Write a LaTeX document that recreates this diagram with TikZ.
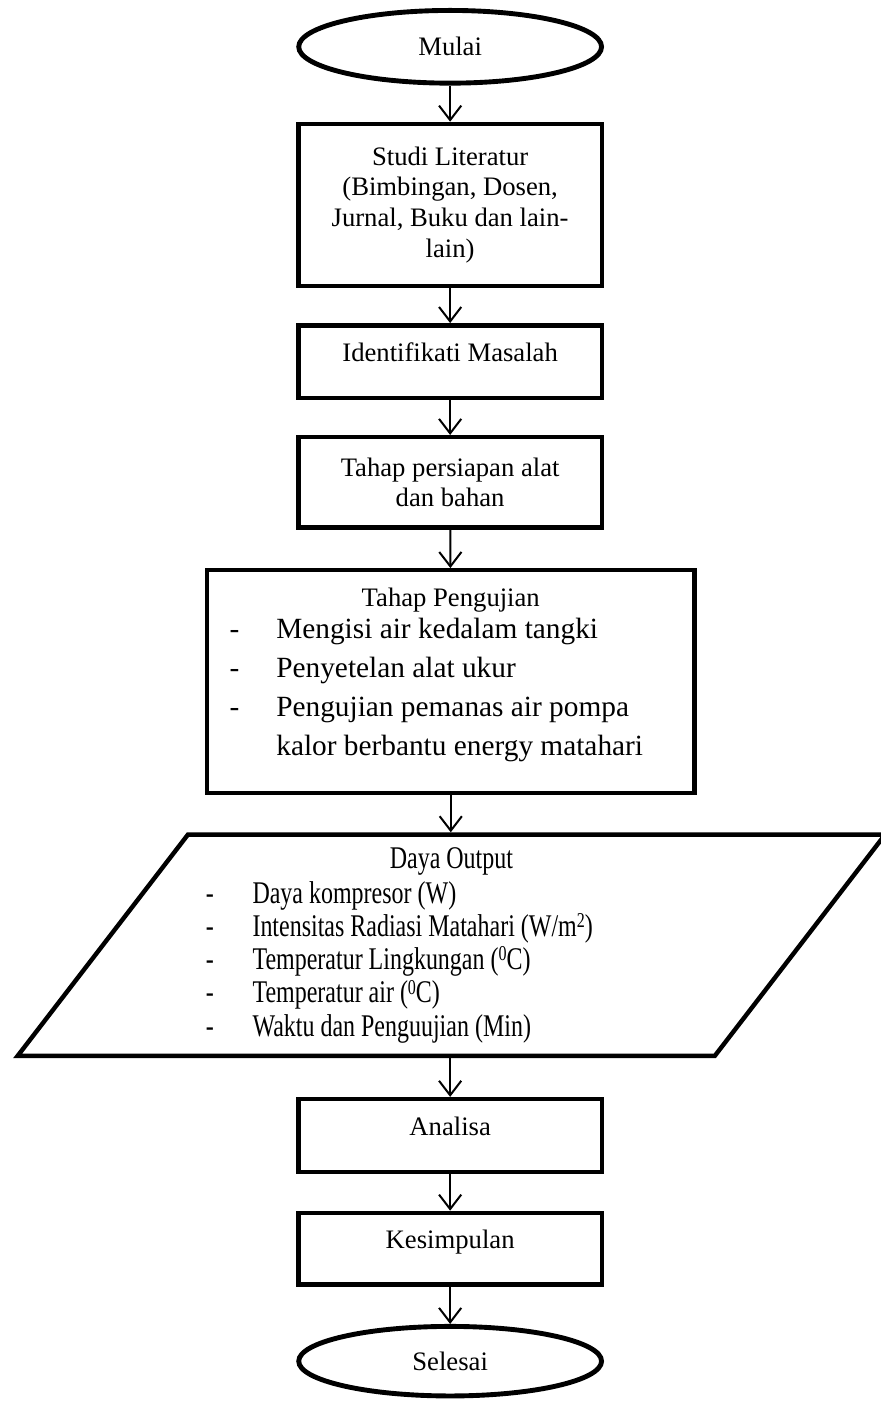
\documentclass[tikz,border=0pt]{standalone}
\usepackage{fontspec}
\setmainfont{Liberation Serif}
\newfontfamily\condensed[FakeStretch=0.76]{Liberation Serif}
\usepackage{tikz}
\usetikzlibrary{shapes.geometric, arrows.meta}

\newcommand{\itemdash}{\makebox[21pt][l]{-}}
\newcommand{\upnum}[1]{\raisebox{0.62ex}{\fontsize{9.5}{9.5}\selectfont #1}}

\tikzset{
    box/.style={draw, rectangle, line width=2pt, minimum width=4.8cm, align=center,
        font=\fontsize{12}{13.8}\selectfont},
    oneline/.style={text height=9pt, text depth=9pt},
    term/.style={draw, ellipse, line width=2.2pt, minimum width=4.79cm,
        font=\fontsize{12}{13.8}\selectfont},
    arr/.style={-{Straight Barb[length=6.5pt,width=10pt]}, line width=0.9pt}
}

\begin{document}
\begin{tikzpicture}
        \useasboundingbox (0,0) rectangle (13.93,-22.16);

        \node[term, minimum height=1.15cm] (mulai) at (7.12,-0.74) {Mulai};

        \node[box, minimum height=2.56cm] (studi) at (7.12,-3.24)
            {Studi Literatur\\(Bimbingan, Dosen,\\Jurnal, Buku dan lain-\\lain)};
        \node[box, oneline, minimum height=1.15cm] (identifikasi) at (7.12,-5.72)
            {Identifikati Masalah};
        \node[box, minimum height=1.43cm] (persiapan) at (7.12,-7.63)
            {Tahap persiapan alat\\dan bahan};

        \node[box, minimum width=7.71cm, minimum height=3.52cm] (pengujian) at (7.13,-10.78)
            {\begin{minipage}{199pt}
                \centering Tahap Pengujian\par\vspace{-3pt}
                \raggedright\fontsize{13.2}{17.5}\selectfont
                \itemdash Mengisi air kedalam tangki\par
                \itemdash Penyetelan alat ukur\par
                \itemdash Pengujian pemanas air pompa\par
                \hspace*{21pt}kalor berbantu energy matahari\par\vspace{6pt}
            \end{minipage}};

        \node[draw, trapezium, trapezium left angle=51, trapezium right angle=129,
            trapezium stretches body, line width=2pt, minimum width=13.72cm,
            minimum height=3.5cm] (output) at (7.14,-14.95)
            {\begin{minipage}{221pt}
                \condensed\fontsize{14.2}{14.9}\selectfont
                \centering Daya Output\par\vspace{1pt}
                \raggedright
                \itemdash Daya kompresor (W)\par
                \itemdash Intensitas Radiasi Matahari (W/m\upnum{2})\par
                \itemdash Temperatur Lingkungan (\upnum{0}C)\par
                \itemdash Temperatur air (\upnum{0}C)\par
                \itemdash Waktu dan Penguujian (Min)
            \end{minipage}};

        \node[box, oneline, minimum height=1.15cm] (analisa) at (7.12,-17.96) {Analisa};
        \node[box, oneline, minimum height=1.13cm] (kesimpulan) at (7.12,-19.75) {Kesimpulan};

        \node[term, minimum height=1.10cm] (selesai) at (7.12,-21.53) {Selesai};

        \draw[arr] (mulai) -- (studi);
        \draw[arr] (studi) -- (identifikasi);
        \draw[arr] (identifikasi) -- (persiapan);
        \draw[arr] (persiapan) -- (pengujian);
        \draw[arr] (pengujian.south) -- (pengujian.south |- output.north);
        \draw[arr] (analisa.north |- output.south) -- (analisa);
        \draw[arr] (analisa) -- (kesimpulan);
        \draw[arr] (kesimpulan) -- (selesai);
    \end{tikzpicture}
\end{document}
